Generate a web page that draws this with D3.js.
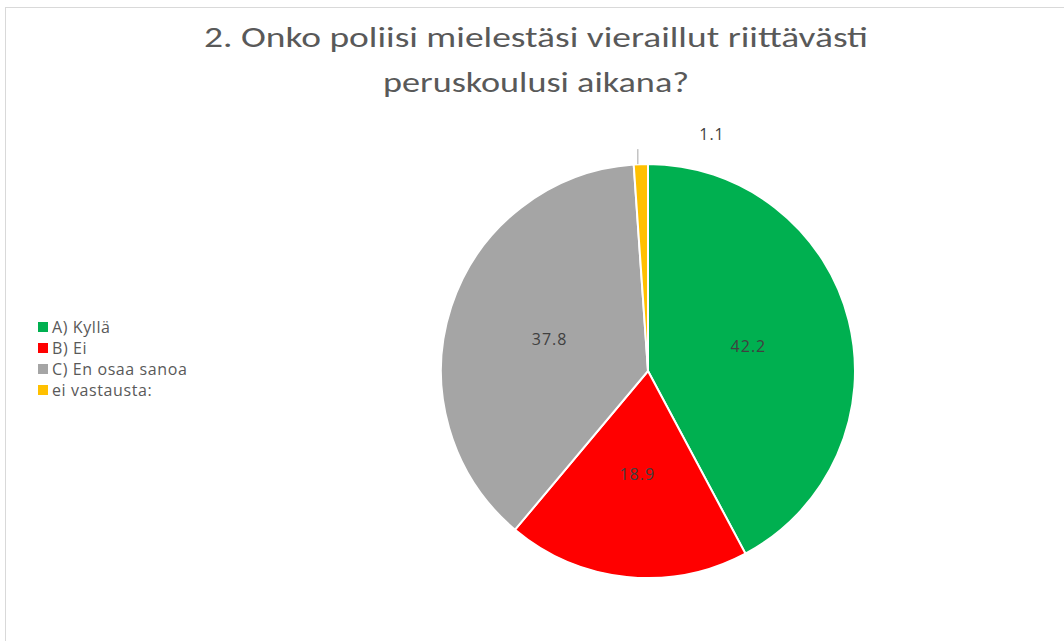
<!DOCTYPE html>
<meta charset="utf-8">
<style>
    body { margin: 0; background: #fff; }
    svg { font-family: Carlito, Calibri, "Open Sans", sans-serif; }
    .small-text { font-family: "Open Sans", sans-serif; letter-spacing: 1px; }
</style>
<body>
<script src="https://cdn.jsdelivr.net/npm/d3@7"></script>
<script>
    const categories = ["A) Kyllä", "B) Ei", "C) En osaa sanoa", "ei vastausta:"];
    const values = [42.2, 18.9, 37.8, 1.1];
    const colors = ["#00B050", "#FF0000", "#A5A5A5", "#FFC000"];
    const titleLines = ["2. Onko poliisi mielestäsi vieraillut riittävästi", "peruskoulusi aikana?"];

    const width = 1064, height = 641;
    const cx = 648, cy = 371, radius = 207;

    const svg = d3.select("body").append("svg")
        .attr("width", width)
        .attr("height", height);

    // chart area frame
    svg.append("rect")
        .attr("x", 5.5).attr("y", 7.5)
        .attr("width", width + 10).attr("height", height + 10)
        .attr("fill", "white")
        .attr("stroke", "#d9d9d9");

    // title
    svg.append("g").selectAll("text")
        .data(titleLines)
        .enter().append("text")
        .attr("x", 536)
        .attr("y", (d, i) => 47 + i * 45)
        .attr("text-anchor", "middle")
        .attr("textLength", (d, i) => i === 0 ? 664 : 306)
        .attr("lengthAdjust", "spacingAndGlyphs")
        .style("font-size", "28px")
        .style("font-weight", 300)
        .style("fill", "#595959")
        .text(d => d);

    const data = categories.map((c, i) => ({name: c, value: values[i], color: colors[i]}));

    const pie = d3.pie().sort(null).value(d => d.value);
    const arc = d3.arc().innerRadius(0).outerRadius(radius);
    const labelArc = d3.arc().innerRadius(radius * 0.5).outerRadius(radius * 0.5);
    const arcs = pie(data);

    const g = svg.append("g").attr("transform", `translate(${cx},${cy})`);

    g.selectAll("path")
        .data(arcs)
        .enter().append("path")
        .attr("d", arc)
        .attr("fill", d => d.data.color)
        .attr("stroke", "white")
        .attr("stroke-width", 2);

    // inside labels for big slices
    g.selectAll("text.inner")
        .data(arcs.filter(d => d.data.value > 5))
        .enter().append("text")
        .attr("class", "inner small-text")
        .attr("transform", d => `translate(${labelArc.centroid(d)})`)
        .attr("text-anchor", "middle")
        .attr("dy", "0.35em")
        .style("font-size", "16px")
        .style("fill", "#404040")
        .text(d => d.data.value.toFixed(1));

    // small slice: leader line + outside label
    const small = arcs.filter(d => d.data.value <= 5);
    small.forEach(d => {
        const a = (d.startAngle + d.endAngle) / 2;
        const x0 = Math.sin(a) * radius - 3, y0 = -Math.cos(a) * radius;
        g.append("line")
            .attr("x1", x0).attr("y1", y0)
            .attr("x2", x0).attr("y2", y0 - 15)
            .attr("stroke", "#a6a6a6")
            .attr("stroke-width", 1);
        g.append("text")
            .attr("class", "small-text")
            .attr("x", 64)
            .attr("y", y0 - 30)
            .attr("text-anchor", "middle")
            .attr("dy", "0.35em")
            .style("font-size", "16px")
            .style("fill", "#404040")
            .text(d.data.value.toFixed(1));
    });

    // legend
    const legend = svg.append("g").selectAll("g")
        .data(data)
        .enter().append("g")
        .attr("transform", (d, i) => `translate(38,${327 + i * 21})`);

    legend.append("rect")
        .attr("x", 0).attr("y", -5)
        .attr("width", 10).attr("height", 10)
        .attr("fill", d => d.color);

    legend.append("text")
        .attr("class", "small-text")
        .attr("x", 14)
        .attr("dy", "0.35em")
        .style("font-size", "16px")
        .style("letter-spacing", "0.6px")
        .style("fill", "#595959")
        .text(d => d.name);
</script>
</body>
